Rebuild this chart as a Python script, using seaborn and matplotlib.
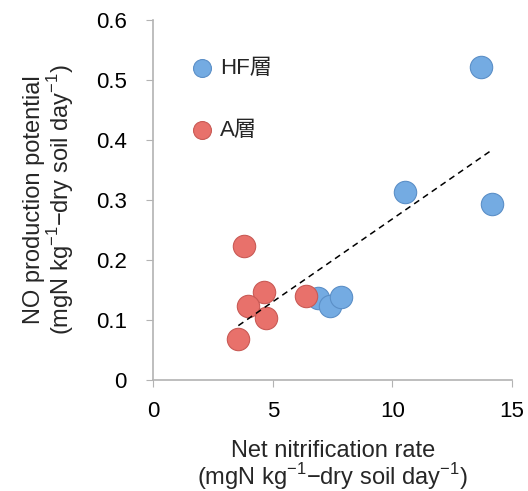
import numpy as np
import pandas as pd
import matplotlib
matplotlib.use("Agg")
import matplotlib.pyplot as plt
import seaborn as sns

# values
hf_x = [13.68, 14.14, 10.54, 6.90, 7.41, 7.87]
hf_y = [0.522, 0.293, 0.313, 0.137, 0.123, 0.138]
a_x = [3.81, 4.64, 3.97, 4.73, 3.56, 6.40]
a_y = [0.223, 0.147, 0.123, 0.103, 0.068, 0.140]
layers = ["HF層", "A層"]

df = pd.DataFrame({
    "x": hf_x + a_x,
    "y": hf_y + a_y,
    "layer": [layers[0]] * len(hf_x) + [layers[1]] * len(a_x),
})

sns.set_style("white")
plt.rcParams["font.family"] = ["Liberation Sans", "Noto Sans CJK JP"]
plt.rcParams["mathtext.fontset"] = "custom"
plt.rcParams["mathtext.rm"] = "Liberation Sans"

fig = plt.figure(figsize=(5.28, 4.91), dpi=100)
ax = fig.add_axes([0.29, 0.226, 0.68, 0.733])

pal = {"HF層": "#74abe2", "A層": "#e8716b"}
edges = {"HF層": "#5b8fc7", "A層": "#c95a55"}
for lay in layers:
    sub = df[df.layer == lay]
    sns.scatterplot(data=sub, x="x", y="y", ax=ax, s=260, color=pal[lay],
                    edgecolor=edges[lay], linewidth=0.8, label=lay, zorder=3)

# linear trend over all points
k, b = np.polyfit(df.x, df.y, 1)
xs = np.array([df.x.min(), df.x.max()])
ax.plot(xs, k * xs + b, ls=(0, (4, 3)), color="black", lw=1.1, zorder=4)

ax.set_xlim(0, 15)
ax.set_ylim(0, 0.6)
ax.set_xticks([0, 5, 10, 15])
ax.set_yticks([0, 0.1, 0.2, 0.3, 0.4, 0.5, 0.6])
ax.set_yticklabels(["0", "0.1", "0.2", "0.3", "0.4", "0.5", "0.6"])
for s in ["top", "right"]:
    ax.spines[s].set_visible(False)
for s in ["left", "bottom"]:
    ax.spines[s].set_color("#b3b3b3")
    ax.spines[s].set_linewidth(1.2)
ax.tick_params(axis="both", labelsize=16, colors="black", length=5, color="#b3b3b3",
               direction="out", left=True, bottom=True)
ax.tick_params(axis="y", pad=14)
ax.tick_params(axis="x", pad=10)

ax.set_xlabel("Net nitrification rate\n(mgN kg$^{-1}$−dry soil day$^{-1}$)", fontsize=17,
              labelpad=13, linespacing=0.95)
ax.set_ylabel("NO production potential\n(mgN kg$^{-1}$−dry soil day$^{-1}$)", fontsize=17,
              labelpad=14, linespacing=1.0)

leg = ax.legend(loc="upper left", bbox_to_anchor=(0.043, 0.95), frameon=False, fontsize=16,
                markerscale=0.8, labelspacing=1.85, handletextpad=0.2, handlelength=1.2)

fig.savefig("out.png", dpi=100)
